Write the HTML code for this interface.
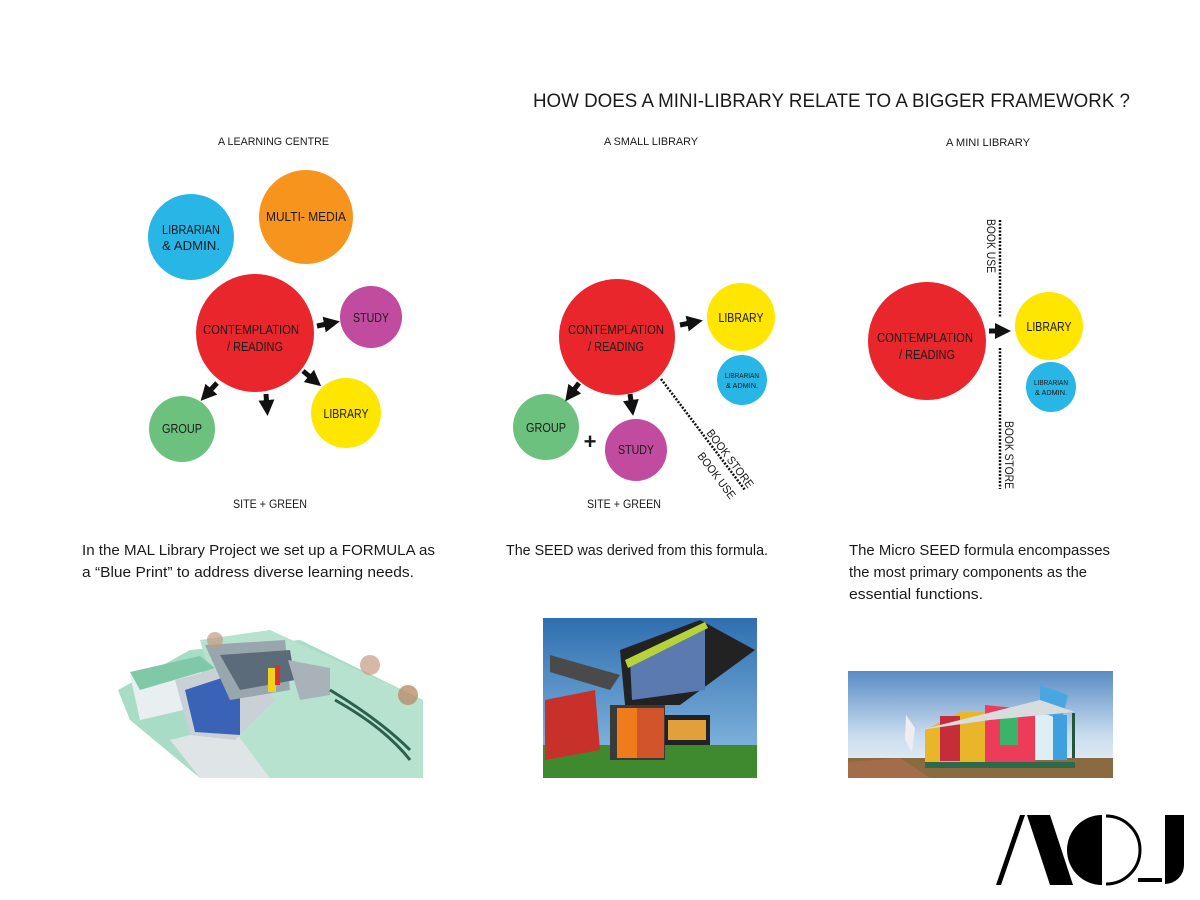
<!DOCTYPE html>
<html><head><meta charset="utf-8"><style>
html,body{margin:0;padding:0;background:#fff}
svg{display:block}
text{font-family:"Liberation Sans",sans-serif;fill:#1a1a1a}
</style></head><body>
<svg width="1200" height="900" viewBox="0 0 1200 900" xmlns="http://www.w3.org/2000/svg">
<defs>
<marker id="ah" viewBox="0 0 10 10" refX="5" refY="5" markerWidth="3.2" markerHeight="3.2" orient="auto"><path d="M0,0 L10,5 L0,10 z" fill="#111"/></marker>
<linearGradient id="sky1" x1="0" y1="0" x2="0" y2="1"><stop offset="0" stop-color="#2f6fb0"/><stop offset="1" stop-color="#8fc0e6"/></linearGradient>
<linearGradient id="sky2" x1="0" y1="0" x2="0" y2="1"><stop offset="0" stop-color="#5a8bc4"/><stop offset="0.6" stop-color="#c9dcef"/><stop offset="1" stop-color="#eef3f7"/></linearGradient>
</defs>

<text x="533" y="107" font-size="19" textLength="597" lengthAdjust="spacingAndGlyphs">HOW DOES A MINI-LIBRARY RELATE TO A BIGGER FRAMEWORK ?</text>
<text x="218" y="145" font-size="11" textLength="111" lengthAdjust="spacingAndGlyphs">A LEARNING CENTRE</text>
<text x="604" y="145" font-size="11" textLength="94" lengthAdjust="spacingAndGlyphs">A SMALL LIBRARY</text>
<text x="946" y="146" font-size="11" textLength="84" lengthAdjust="spacingAndGlyphs">A MINI LIBRARY</text>

<!-- LEFT DIAGRAM -->
<circle cx="191" cy="237" r="43" fill="#27b6e6"/>
<circle cx="306" cy="217" r="47" fill="#f7941d"/>
<circle cx="255" cy="333" r="59" fill="#e8262c"/>
<circle cx="371" cy="317" r="31" fill="#c04b9f"/>
<circle cx="346" cy="413" r="35" fill="#ffe600"/>
<circle cx="182" cy="429" r="33" fill="#6cc17f"/>
<g font-size="12.5" text-anchor="middle">
<text x="191" y="234" textLength="58" lengthAdjust="spacingAndGlyphs">LIBRARIAN</text>
<text x="191" y="250" textLength="58" lengthAdjust="spacingAndGlyphs">&amp; ADMIN.</text>
<text x="306" y="221" textLength="80" lengthAdjust="spacingAndGlyphs">MULTI- MEDIA</text>
<text x="251" y="334" textLength="96" lengthAdjust="spacingAndGlyphs">CONTEMPLATION</text>
<text x="255" y="351" textLength="56" lengthAdjust="spacingAndGlyphs">/ READING</text>
<text x="371" y="322" textLength="36" lengthAdjust="spacingAndGlyphs">STUDY</text>
<text x="346" y="418" textLength="45" lengthAdjust="spacingAndGlyphs">LIBRARY</text>
<text x="182" y="433" textLength="40" lengthAdjust="spacingAndGlyphs">GROUP</text>
</g>
<g stroke="#111" stroke-width="5" marker-end="url(#ah)">
<line x1="317" y1="326" x2="332" y2="323"/>
<line x1="303" y1="371" x2="315" y2="381"/>
<line x1="266" y1="394" x2="267" y2="408"/>
<line x1="217" y1="383" x2="206" y2="395"/>
</g>
<text x="233" y="508" font-size="11.5" textLength="74" lengthAdjust="spacingAndGlyphs">SITE + GREEN</text>

<!-- MIDDLE DIAGRAM -->
<circle cx="617" cy="337" r="58" fill="#e8262c"/>
<circle cx="741" cy="317" r="34" fill="#ffe600"/>
<circle cx="742" cy="380" r="25" fill="#27b6e6"/>
<circle cx="546" cy="427" r="33" fill="#6cc17f"/>
<circle cx="636" cy="450" r="31" fill="#c04b9f"/>
<g font-size="12.5" text-anchor="middle">
<text x="616" y="334" textLength="96" lengthAdjust="spacingAndGlyphs">CONTEMPLATION</text>
<text x="616" y="351" textLength="56" lengthAdjust="spacingAndGlyphs">/ READING</text>
<text x="741" y="322" textLength="45" lengthAdjust="spacingAndGlyphs">LIBRARY</text>
<text x="742" y="378" font-size="7.5" textLength="34" lengthAdjust="spacingAndGlyphs">LIBRARIAN</text>
<text x="742" y="388" font-size="7.5" textLength="32" lengthAdjust="spacingAndGlyphs">&amp; ADMIN.</text>
<text x="546" y="432" textLength="40" lengthAdjust="spacingAndGlyphs">GROUP</text>
<text x="636" y="454" textLength="36" lengthAdjust="spacingAndGlyphs">STUDY</text>
</g>
<text x="590" y="449" font-size="22" text-anchor="middle" font-weight="bold">+</text>
<g stroke="#111" stroke-width="5" marker-end="url(#ah)">
<line x1="680" y1="325" x2="695" y2="322"/>
<line x1="579" y1="383" x2="570" y2="395"/>
<line x1="630" y1="394" x2="632" y2="408"/>
</g>
<line x1="661" y1="379" x2="745" y2="490" stroke="#111" stroke-width="2.5" stroke-dasharray="2,1.5"/>
<text transform="translate(706,433) rotate(53)" font-size="11.5" textLength="70" lengthAdjust="spacingAndGlyphs">BOOK STORE</text>
<text transform="translate(697,456) rotate(53)" font-size="11.5" textLength="55" lengthAdjust="spacingAndGlyphs">BOOK USE</text>
<text x="587" y="508" font-size="11.5" textLength="74" lengthAdjust="spacingAndGlyphs">SITE + GREEN</text>

<!-- RIGHT DIAGRAM -->
<circle cx="927" cy="341" r="59" fill="#e8262c"/>
<circle cx="1049" cy="326" r="34" fill="#ffe600"/>
<circle cx="1051" cy="387" r="25" fill="#27b6e6"/>
<g font-size="12.5" text-anchor="middle">
<text x="925" y="342" textLength="96" lengthAdjust="spacingAndGlyphs">CONTEMPLATION</text>
<text x="927" y="359" textLength="56" lengthAdjust="spacingAndGlyphs">/ READING</text>
<text x="1049" y="331" textLength="45" lengthAdjust="spacingAndGlyphs">LIBRARY</text>
<text x="1051" y="385" font-size="7.5" textLength="34" lengthAdjust="spacingAndGlyphs">LIBRARIAN</text>
<text x="1051" y="395" font-size="7.5" textLength="32" lengthAdjust="spacingAndGlyphs">&amp; ADMIN.</text>
</g>
<line x1="989" y1="331" x2="1003" y2="331" stroke="#111" stroke-width="5" marker-end="url(#ah)"/>
<line x1="1000" y1="220" x2="1000" y2="317" stroke="#111" stroke-width="2.5" stroke-dasharray="2,1.5"/>
<line x1="1000" y1="348" x2="1000" y2="489" stroke="#111" stroke-width="2.5" stroke-dasharray="2,1.5"/>
<text transform="translate(987,219) rotate(90)" font-size="11.5" textLength="54" lengthAdjust="spacingAndGlyphs">BOOK USE</text>
<text transform="translate(1005,421) rotate(90)" font-size="11.5" textLength="68" lengthAdjust="spacingAndGlyphs">BOOK STORE</text>

<!-- PARAGRAPHS -->
<g font-size="14.5">
<text x="82" y="555" textLength="353" lengthAdjust="spacingAndGlyphs">In the MAL Library Project we set up a FORMULA as</text>
<text x="82" y="577" textLength="332" lengthAdjust="spacingAndGlyphs">a “Blue Print” to address diverse learning needs.</text>
<text x="506" y="555" textLength="262" lengthAdjust="spacingAndGlyphs">The SEED was derived from this formula.</text>
<text x="849" y="555" textLength="261" lengthAdjust="spacingAndGlyphs">The Micro SEED formula encompasses</text>
<text x="849" y="577" textLength="238" lengthAdjust="spacingAndGlyphs">the most primary components as the</text>
<text x="849" y="599" textLength="134" lengthAdjust="spacingAndGlyphs">essential functions.</text>
</g>

<!-- LEFT IMAGE (rendering) -->
<g>
<polygon points="118,690 190,650 300,640 423,700 423,778 200,778 130,720" fill="#a8dcc6"/>
<polygon points="200,640 270,630 423,700 423,778 240,778" fill="#b6e2cf"/>
<polygon points="130,675 200,660 205,705 140,720" fill="#e9eef0"/>
<polygon points="130,672 200,656 215,668 140,690" fill="#7fc9a8"/>
<polygon points="170,740 230,725 270,778 200,778" fill="#dfe5e6"/>
<polygon points="175,680 250,660 275,700 235,740 190,735" fill="#c9d1d6"/>
<polygon points="185,690 240,672 240,735 195,732" fill="#3a63b8"/>
<polygon points="205,645 285,640 290,690 230,700" fill="#9aa6ad"/>
<polygon points="220,655 290,650 295,680 240,690" fill="#5c6b7a"/>
<rect x="268" y="668" width="8" height="24" fill="#f2d21c"/>
<rect x="275" y="665" width="5" height="20" fill="#d8332a"/>
<polygon points="288,660 330,668 330,695 300,700" fill="#a9b2b8"/>
<path d="M330,690 Q380,720 410,750" stroke="#2d5f4c" stroke-width="3" fill="none"/>
<path d="M335,700 Q385,728 410,760" stroke="#2d5f4c" stroke-width="3" fill="none"/>
<circle cx="408" cy="695" r="10" fill="#b98e6a" opacity=".8"/>
<circle cx="370" cy="665" r="10" fill="#c39a82" opacity=".7"/>
<circle cx="215" cy="640" r="8" fill="#c39a82" opacity=".7"/>
</g>

<!-- MIDDLE IMAGE (photo) -->
<g>
<rect x="543" y="618" width="214" height="160" fill="url(#sky1)"/>
<rect x="543" y="745" width="214" height="33" fill="#3f8a2f"/>
<polygon points="550,655 620,675 610,690 550,672" fill="#4a4a4a"/>
<polygon points="620,650 700,620 755,650 680,705 625,705" fill="#222"/>
<polygon points="630,660 705,625 705,690 632,700" fill="#5a7ab0"/>
<polygon points="625,660 705,622 708,628 628,668" fill="#b7d23a"/>
<rect x="610" y="705" width="55" height="55" fill="#3a3a3a"/>
<rect x="617" y="708" width="20" height="50" fill="#f07b1a"/>
<rect x="637" y="708" width="27" height="50" fill="#d2542a"/>
<polygon points="545,700 595,690 600,750 545,760" fill="#c8302a"/>
<rect x="665" y="715" width="45" height="30" fill="#222"/>
<rect x="668" y="720" width="38" height="20" fill="#e2a03a"/>
</g>

<!-- RIGHT IMAGE (photo) -->
<g>
<rect x="848" y="671" width="265" height="107" fill="url(#sky2)"/>
<rect x="848" y="758" width="265" height="20" fill="#8a6a40"/>
<polygon points="848,762 900,758 930,778 848,778" fill="#a36c4a"/>
<polygon points="925,730 960,712 1000,712 1000,765 925,765" fill="#e9b62a"/>
<rect x="940" y="716" width="20" height="45" fill="#c62d3a"/>
<polygon points="985,705 1035,710 1035,762 985,765" fill="#ed3b5a"/>
<rect x="1000" y="715" width="18" height="30" fill="#3bb36a"/>
<rect x="1035" y="715" width="18" height="45" fill="#ddeef7"/>
<polygon points="1040,685 1068,695 1062,720 1040,712" fill="#4aa6e0"/>
<rect x="1053" y="715" width="14" height="45" fill="#3fa0df"/>
<polygon points="920,730 1040,700 1075,712 990,720" fill="#d7dcdf"/>
<rect x="1072" y="713" width="3" height="45" fill="#24553c"/>
<polygon points="906,715 915,728 912,752 905,740" fill="#eeeeee"/>
<rect x="925" y="762" width="150" height="6" fill="#2b6a4a"/>
</g>

<!-- LOGO -->
<g fill="#000">
<polygon points="996,885 1020,815 1025,815 1001,885"/>
<polygon points="1027,815 1050,815 1073,885 1050,885"/>
<path d="M1102,815 A35,35 0 0 0 1102,885 Z"/>
<path d="M1106,816 A34,34 0 0 1 1106,884" fill="none" stroke="#000" stroke-width="3"/>
<rect x="1138" y="878" width="24" height="4"/>
<path d="M1165,815 L1184,815 L1184,865 A19,19 0 0 1 1165,884 Z"/>
</g>
</svg>
</body></html>
